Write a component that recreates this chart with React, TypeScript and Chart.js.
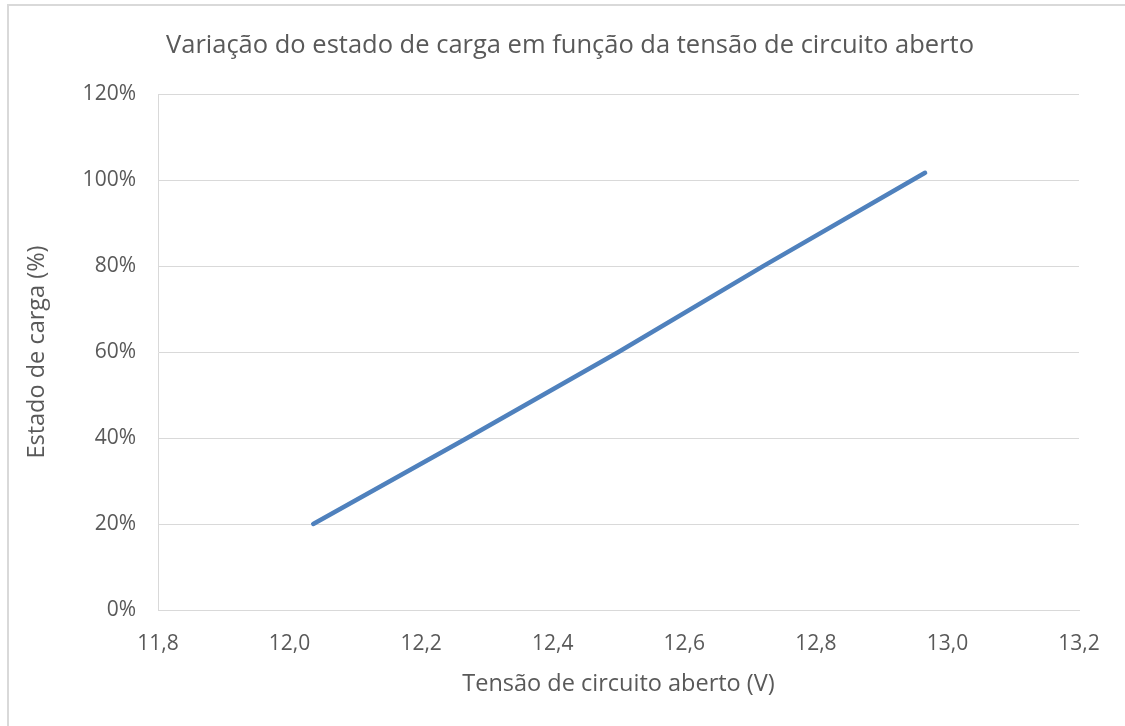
import React, { useEffect, useRef } from "react";
import { Chart, registerables } from "chart.js";

Chart.register(...registerables);

const VOLTAGES = [12.036, 12.27, 12.5, 12.72, 12.966];
const SOC = [20, 40, 60, 80, 101.7];
const X_TICKS = [11.8, 12.0, 12.2, 12.4, 12.6, 12.8, 13.0, 13.2];
const Y_TICKS = [0, 20, 40, 60, 80, 100, 120];

const TITLE = "Variação do estado de carga em função da tensão de circuito aberto";
const X_TITLE = "Tensão de circuito aberto (V)";
const Y_TITLE = "Estado de carga (%)";

const FONT = "'Open Sans', sans-serif";
const TEXT = "#595959";
const GRID = "#d9d9d9";

const PAD_LEFT = 61;

export default function App() {
  const ref = useRef<HTMLCanvasElement | null>(null);

  useEffect(() => {
    document.body.style.margin = "0";
    const canvas = ref.current;
    if (!canvas) return;
    const chart = new Chart(canvas, {
      type: "line",
      data: {
        datasets: [
          {
            data: VOLTAGES.map((v, i) => ({ x: v, y: SOC[i] })),
            borderColor: "#4f81bd",
            borderWidth: 4.5,
            borderCapStyle: "round",
            borderJoinStyle: "round",
            pointRadius: 0,
            tension: 0,
            fill: false,
          },
        ],
      },
      options: {
        responsive: false,
        animation: false,
        layout: { padding: { left: PAD_LEFT, right: 46, top: 0, bottom: 0 } },
        plugins: {
          legend: { display: false },
          tooltip: { enabled: false },
          title: {
            display: true,
            text: TITLE,
            color: TEXT,
            font: { family: FONT, size: 25.5, weight: "normal", lineHeight: 1.2 },
            padding: { top: 30.5, bottom: 33 },
          },
        },
        scales: {
          x: {
            type: "linear",
            min: 11.8,
            max: 13.2,
            afterBuildTicks: (axis: any) => {
              axis.ticks = X_TICKS.map((v) => ({ value: v }));
            },
            afterFit: (scale: any) => {
              scale.height = 116;
            },
            grid: { display: false, drawTicks: false },
            border: { display: true, color: GRID, width: 1 },
            ticks: {
              color: TEXT,
              font: { family: FONT, size: 21 },
              padding: 21,
              maxRotation: 0,
              autoSkip: false,
              callback: (v: any) => Number(v).toFixed(1).replace(".", ","),
            },
            title: {
              display: true,
              text: X_TITLE,
              color: TEXT,
              font: { family: FONT, size: 23.5, lineHeight: 1.2 },
              padding: { top: 0, bottom: 28 },
            },
          },
          y: {
            type: "linear",
            min: 0,
            max: 120,
            afterBuildTicks: (axis: any) => {
              axis.ticks = Y_TICKS.map((v) => ({ value: v }));
            },
            afterFit: (scale: any) => {
              scale.width = 158 - PAD_LEFT;
            },
            grid: { color: GRID, lineWidth: 1, drawTicks: false },
            border: { display: true, color: GRID, width: 1 },
            ticks: {
              color: TEXT,
              font: { family: FONT, size: 21 },
              padding: 22,
              callback: (v: any) => v + "%",
            },
            title: {
              display: true,
              text: Y_TITLE,
              color: TEXT,
              font: { family: FONT, size: 23.5, lineHeight: 1.2 },
              padding: { top: 37 - 14.1 - PAD_LEFT, bottom: 0 },
            },
          },
        },
      },
    });
    return () => chart.destroy();
  }, []);

  return (
    <div style={{ position: "relative", width: 1125, height: 726, background: "#fff", overflow: "hidden" }}>
      <div
        style={{
          position: "absolute",
          left: 7,
          top: 4,
          width: 1200,
          height: 800,
          borderTop: "2px solid #d9d9d9",
          borderLeft: "2px solid #d9d9d9",
          pointerEvents: "none",
        }}
      />
      <canvas ref={ref} width={1125} height={726} style={{ position: "absolute", left: 0, top: 0 }} />
    </div>
  );
}
